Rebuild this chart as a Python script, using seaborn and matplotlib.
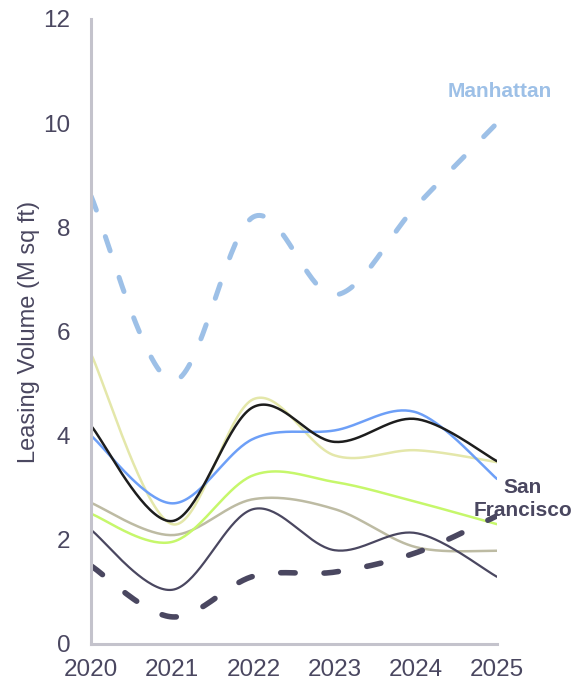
import numpy as np
import pandas as pd
import matplotlib
matplotlib.use("Agg")
import matplotlib.pyplot as plt
import seaborn as sns

years = [2020, 2021, 2022, 2023, 2024, 2025]

manhattan = [8.6, 5.05, 8.2, 6.7, 8.4, 10.0]
san_francisco = [1.5, 0.52, 1.3, 1.38, 1.75, 2.46]
market_blue = [4.0, 2.7, 3.94, 4.1, 4.45, 3.17]
market_black = [4.19, 2.36, 4.55, 3.88, 4.32, 3.51]
market_cream = [5.57, 2.3, 4.7, 3.62, 3.72, 3.49]
market_lime = [2.5, 1.96, 3.24, 3.11, 2.73, 2.3]
market_taupe = [2.71, 2.09, 2.78, 2.59, 1.86, 1.79]
market_slate = [2.19, 1.04, 2.59, 1.8, 2.13, 1.29]

y_ticks = [0, 2, 4, 6, 8, 10, 12]
x_ticks = years

SLATE = "#4a4760"


def catmull_rom(xs, ys, n=40):
    """Uniform Catmull-Rom spline through the given points."""
    xs = np.asarray(xs, float)
    ys = np.asarray(ys, float)
    px = np.concatenate([[xs[0]], xs, [xs[-1]]])
    py = np.concatenate([[ys[0]], ys, [ys[-1]]])
    out_x, out_y = [], []
    t = np.linspace(0, 1, n, endpoint=False)
    for i in range(1, len(px) - 2):
        for arr, out in ((px, out_x), (py, out_y)):
            p0, p1, p2, p3 = arr[i - 1], arr[i], arr[i + 1], arr[i + 2]
            seg = 0.5 * ((2 * p1) + (-p0 + p2) * t
                         + (2 * p0 - 5 * p1 + 4 * p2 - p3) * t ** 2
                         + (-p0 + 3 * p1 - 3 * p2 + p3) * t ** 3)
            out.extend(seg)
    out_x.append(xs[-1])
    out_y.append(ys[-1])
    return np.array(out_x), np.array(out_y)


sns.set_theme(style="white")
plt.rcParams["font.family"] = ["Liberation Sans", "DejaVu Sans"]

fig = plt.figure(figsize=(5.76, 6.85), dpi=100)
ax = fig.add_axes([0.158, 0.0599, 0.7048, 0.9124])

series = [
    (market_taupe, "#bdbba3", 1.8, None),
    (market_lime, "#c6f76b", 1.8, None),
    (market_slate, SLATE, 1.6, None),
    (market_cream, "#e4e7aa", 1.8, None),
    (market_blue, "#6d9ff7", 1.8, None),
    (market_black, "#1d1d1d", 1.8, None),
    (san_francisco, SLATE, 4.0, (2.6, 5.2)),
    (manhattan, "#9dc0e7", 3.6, (3.0, 5.6)),
]

for values, color, lw, dash in series:
    sx, sy = catmull_rom(years, values)
    df = pd.DataFrame({"year": sx, "volume": sy})
    sns.lineplot(data=df, x="year", y="volume", color=color, linewidth=lw,
                 sort=False, ax=ax)
    line = ax.lines[-1]
    line.set_solid_capstyle("round")
    if dash is not None:
        line.set_dashes(dash)
        line.set_dash_capstyle("round")

ax.set_xlim(2020, 2025)
ax.set_ylim(0, 12)
ax.set_xticks(x_ticks)
ax.set_xticklabels([str(y) for y in x_ticks])
ax.set_yticks(y_ticks)
ax.set_yticklabels([str(v) for v in y_ticks])
ax.tick_params(axis="both", length=0, labelsize=17.5, colors=SLATE)
ax.tick_params(axis="y", pad=15)
ax.tick_params(axis="x", pad=10.5)
ax.set_xlabel("")
ax.set_ylabel("Leasing Volume (M sq ft)", fontsize=17, color=SLATE, labelpad=2)

for side in ("top", "right"):
    ax.spines[side].set_visible(False)
for side in ("left", "bottom"):
    ax.spines[side].set_color("#c4c3cc")
    ax.spines[side].set_linewidth(2.2)

ax.text(2025.03, 10.6, "Manhattan", color="#9dc0e7", fontsize=15,
        fontweight="bold", ha="center", va="center", clip_on=False)
ax.text(2025.32, 2.78, "San\nFrancisco", color=SLATE, fontsize=15,
        fontweight="bold", ha="center", va="center", linespacing=1.25,
        clip_on=False)

fig.savefig("out.png", dpi=100)
